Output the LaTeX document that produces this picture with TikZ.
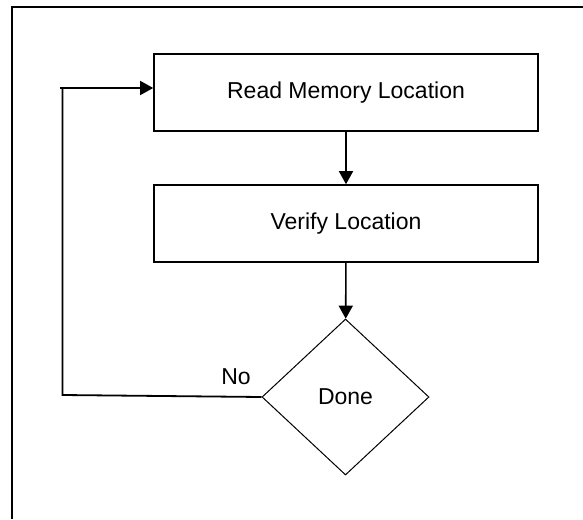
\documentclass[tikz,border=0pt]{standalone}
\usepackage{fontspec}
\setmainfont{Liberation Sans}
\usetikzlibrary{arrows.meta,shapes.geometric}
\begin{document}
\begin{tikzpicture}[x=1pt,y=-1pt,
  font=\fontsize{23}{27}\selectfont,
  boxstyle/.style={draw,line width=1.6pt,minimum width=384pt,minimum height=77pt,inner sep=0pt},
  decision/.style={draw,diamond,line width=1pt,minimum width=167pt,minimum height=156pt,inner sep=0pt},
  conn/.style={line width=1.6pt,-{Triangle[length=13pt,width=14pt]}},
  frameline/.style={line width=2.5pt}]
\useasboundingbox (0,0) rectangle (583,519);
\coordinate (ftop) at (583,7);
\coordinate (fcorner) at (12,7);
\coordinate (fbot) at (12,519);
\draw[frameline] (ftop) -- (fcorner) -- (fbot);
\node[boxstyle] (b1) at (346,92.5) {Read Memory Location};
\node[boxstyle] (b2) at (346,223.5) {Verify Location};
\node[decision] (d) at (345.5,397) {Done};
\node (no) at (236,377) {No};
\coordinate (c1) at (62.5,395);
\coordinate (c2) at (62.5,88);
\coordinate (stub) at (59.5,88);
\draw[conn] (b1) -- (b2);
\draw[conn] (b2) -- (d);
\draw[line width=1.8pt] (d.west) -- (c1) -- (c2);
\draw[conn] (stub) -- (c2 -| b1.west);
\end{tikzpicture}
\end{document}
